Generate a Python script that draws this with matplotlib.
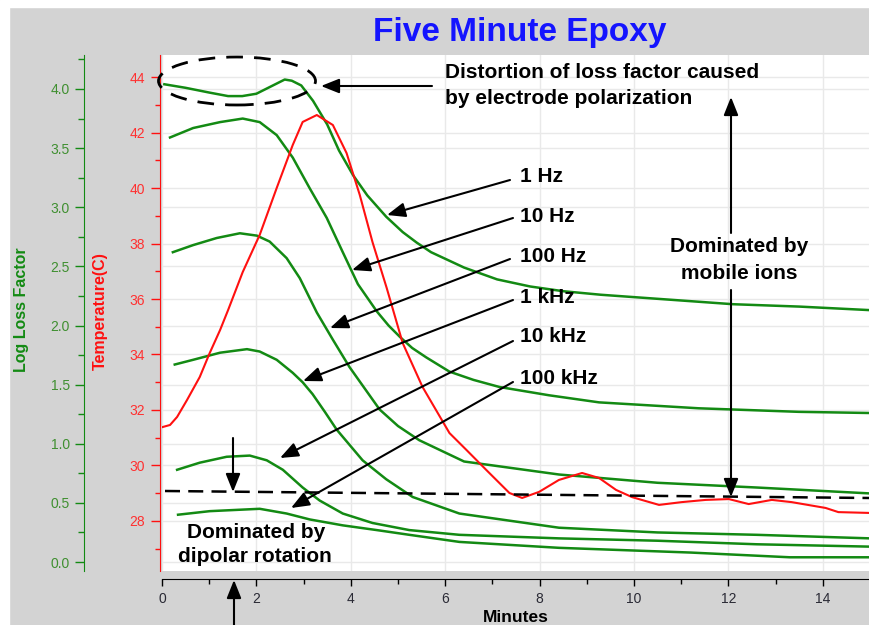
import numpy as np
import matplotlib.pyplot as plt
import matplotlib.transforms as mtransforms
from matplotlib.patches import Ellipse, FancyArrowPatch, Rectangle
from matplotlib.lines import Line2D
from matplotlib.ticker import MultipleLocator

plt.rcParams['font.family'] = ['Liberation Sans', 'DejaVu Sans']

# log loss factor curves (minutes, log loss factor)
t_1hz = [0.05, 0.5, 1.0, 1.4, 1.7, 2.0, 2.3, 2.6, 2.75, 2.95, 3.2, 3.5, 3.75, 4.05, 4.35,
         4.75, 5.1, 5.4, 5.7, 6.4, 7.1, 7.8, 8.5, 9.3, 10.7, 12.1, 13.5, 15.0]
lf_1hz = [4.04, 4.01, 3.97, 3.94, 3.94, 3.96, 4.02, 4.08, 4.07, 4.03, 3.90, 3.70, 3.48, 3.27, 3.10,
          2.92, 2.79, 2.70, 2.62, 2.49, 2.39, 2.33, 2.29, 2.26, 2.22, 2.18, 2.16, 2.13]

t_10hz = [0.17, 0.66, 1.23, 1.71, 2.07, 2.43, 2.77, 3.13, 3.49, 3.83, 4.15, 4.55, 4.8, 5.05,
          5.3, 5.6, 6.09, 6.6, 7.15, 8.2, 9.26, 11.37, 13.49, 15.0]
lf_10hz = [3.59, 3.67, 3.72, 3.75, 3.72, 3.61, 3.42, 3.16, 2.91, 2.62, 2.35, 2.12, 2.00, 1.90,
           1.81, 1.73, 1.61, 1.54, 1.48, 1.41, 1.35, 1.30, 1.27, 1.26]

t_100hz = [0.23, 0.66, 1.16, 1.65, 2.01, 2.28, 2.64, 2.92, 3.28, 3.62, 3.97, 4.61, 5.0, 5.45,
           6.4, 8.41, 10.5, 12.6, 15.0]
lf_100hz = [2.62, 2.68, 2.74, 2.78, 2.76, 2.71, 2.57, 2.40, 2.11, 1.88, 1.65, 1.29, 1.15, 1.03,
            0.85, 0.74, 0.67, 0.63, 0.58]

t_1khz = [0.27, 0.66, 1.23, 1.80, 2.07, 2.43, 2.77, 2.98, 3.19, 3.45, 3.70, 4.25, 4.75, 5.31,
          6.30, 8.41, 10.5, 12.6, 15.0]
lf_1khz = [1.67, 1.71, 1.77, 1.80, 1.78, 1.71, 1.60, 1.52, 1.42, 1.27, 1.12, 0.86, 0.70, 0.55,
           0.41, 0.29, 0.25, 0.23, 0.20]

t_10khz = [0.32, 0.80, 1.37, 1.86, 2.22, 2.56, 2.98, 3.34, 3.83, 4.46, 5.24, 6.30, 8.41,
           10.5, 12.6, 15.0]
lf_10khz = [0.78, 0.84, 0.89, 0.90, 0.86, 0.78, 0.63, 0.52, 0.41, 0.33, 0.27, 0.23, 0.20,
            0.18, 0.15, 0.13]

t_100khz = [0.34, 1.01, 2.07, 2.64, 3.13, 3.83, 4.55, 5.24, 6.30, 8.41, 11.2, 13.3, 15.0]
lf_100khz = [0.40, 0.43, 0.45, 0.41, 0.36, 0.31, 0.27, 0.23, 0.17, 0.12, 0.08, 0.04, 0.04]

# temperature (minutes, deg C)
t_temp = [0.0, 0.17, 0.32, 0.53, 0.80, 1.01, 1.23, 1.40, 1.71, 2.07, 2.43, 2.77, 2.98, 3.28,
          3.62, 3.91, 4.19, 4.46, 4.76, 5.10, 5.52, 6.09, 6.45, 6.87, 7.36, 7.63, 7.99, 8.41,
          8.90, 9.26, 9.62, 9.96, 10.53, 11.01, 11.52, 12.01, 12.43, 12.92, 13.34, 14.06,
          14.33, 15.0]
temp = [31.38, 31.46, 31.75, 32.36, 33.19, 34.05, 34.88, 35.6, 36.97, 38.31, 40.0, 41.55,
        42.38, 42.63, 42.27, 41.26, 39.75, 38.05, 36.4, 34.41, 32.83, 31.17, 30.56, 29.84,
        29.01, 28.83, 29.05, 29.48, 29.73, 29.55, 29.12, 28.86, 28.58, 28.68, 28.76, 28.79,
        28.61, 28.76, 28.68, 28.47, 28.32, 28.29]

freq_labels = ['1 Hz', '10 Hz', '100 Hz', '1 kHz', '10 kHz', '100 kHz']
loss_series = [(t_1hz, lf_1hz), (t_10hz, lf_10hz), (t_100hz, lf_100hz),
               (t_1khz, lf_1khz), (t_10khz, lf_10khz), (t_100khz, lf_100khz)]

W, H = 870, 625
PT = 72 / 100  # points per pixel
def fx(x):
    return x / W
def fy(y):
    return 1 - y / H

GREEN = '#138a13'
RED = '#ff1010'

fig = plt.figure(figsize=(8.7, 6.25), dpi=100, facecolor='#d3d3d3')
fig.add_artist(Rectangle((0, fy(7)), 1, 7 / H, transform=fig.transFigure, color='white', zorder=0))
fig.add_artist(Rectangle((0, 0), 9 / W, 1, transform=fig.transFigure, color='white', zorder=0))

ax = fig.add_axes([fx(162), fy(571), (870 - 162) / W, (571 - 55) / H])
ax.set_facecolor('white')
ax_t = ax.twinx()

ax.set_xlim(0, 15)
ax.set_ylim(-0.076, 4.2875)
ax_t.set_ylim(26.198, 44.793)

# grid (loss factor + temperature + minutes)
ax.set_axisbelow(True)
ax.grid(axis='both', which='major', color='#e9e9e9', lw=1)
blend = mtransforms.blended_transform_factory(ax.transAxes, ax_t.transData)
for tv in range(28, 45, 2):
    ax.plot([0, 1], [tv, tv], transform=blend, color='#e9e9e9', lw=1, zorder=0.5)

for t, v in loss_series:
    ax.plot(t, v, color=GREEN, lw=1.8, zorder=2)
ax_t.plot(t_temp, temp, color=RED, lw=1.5)

# x axis
ax.set_xticks(range(0, 15, 2))
ax.xaxis.set_minor_locator(MultipleLocator(1))
ax.spines['bottom'].set_position(('outward', 8 * PT))
ax.tick_params(axis='x', which='major', direction='out', length=7 * PT, width=1,
               colors='black', labelcolor='#2a2a35', labelsize=10, pad=4)
ax.tick_params(axis='x', which='minor', direction='out', length=5 * PT, width=1, colors='black')
ax.set_xlabel('Minutes', fontsize=12.5, fontweight='bold', labelpad=3)
for s in ['top', 'right']:
    ax.spines[s].set_visible(False)

# green log loss axis
ax.set_yticks(np.arange(0, 4.01, 0.5))
ax.yaxis.set_minor_locator(MultipleLocator(0.25))
ax.spines['left'].set_position(('outward', 78 * PT))
ax.spines['left'].set_color(GREEN)
ax.tick_params(axis='y', which='major', length=9 * PT, width=1, colors=GREEN,
               labelcolor='#3f8f30', labelsize=10, pad=5 * PT)
ax.tick_params(axis='y', which='minor', length=6 * PT, width=1, colors=GREEN)

# red temperature axis on the left
ax_t.yaxis.tick_left()
for s in ['top', 'right', 'bottom']:
    ax_t.spines[s].set_visible(False)
ax_t.spines['left'].set_visible(True)
ax_t.spines['left'].set_position(('outward', 2 * PT))
ax_t.spines['left'].set_color(RED)
ax_t.set_yticks(range(28, 45, 2))
ax_t.yaxis.set_minor_locator(MultipleLocator(1))
ax_t.tick_params(axis='y', which='major', length=9 * PT, width=1, colors=RED,
                 labelcolor='#ff3030', labelsize=10, pad=6 * PT)
ax_t.tick_params(axis='y', which='minor', length=5 * PT, width=1, colors=RED)

fig.text(fx(22), fy(310), 'Log Loss Factor', rotation=90, color=GREEN,
         fontsize=11.5, fontweight='bold', ha='center', va='center')
fig.text(fx(100), fy(311), 'Temperature(C)', rotation=90, color=RED,
         fontsize=11.5, fontweight='bold', ha='center', va='center')
fig.text(fx(520), fy(33), 'Five Minute Epoxy', color='#1414ff', fontsize=24,
         fontweight='bold', ha='center', va='center')

# annotations
def arrow(x0, y0, x1, y1):
    fig.add_artist(FancyArrowPatch((fx(x0), fy(y0)), (fx(x1), fy(y1)),
                                   transform=fig.transFigure,
                                   arrowstyle='-|>,head_length=0.55,head_width=0.22',
                                   mutation_scale=20, color='black', lw=1.5,
                                   shrinkA=0, shrinkB=0))

def note(x, y, s, ha='left'):
    fig.text(fx(x), fy(y), s, fontsize=15, fontweight='bold', ha=ha, va='center')

fig.add_artist(Ellipse((fx(237), fy(81)), 157 / W, 48 / H, transform=fig.transFigure,
                       fill=False, ec='black', lw=2, ls=(0, (6, 4))))
arrow(432, 86, 321, 86)
note(445, 73, 'Distortion of loss factor caused')
note(445, 98, 'by electrode polarization')

label_y = [177, 216, 256, 297, 337, 379]
starts = [(510, 180), (513, 218), (510, 259), (513, 300), (513, 341), (513, 382)]
tips = [(387, 215), (352, 270), (330, 328), (303, 381), (280, 458), (291, 508)]
for lab, ly, (sx, sy), (tx, ty) in zip(freq_labels, label_y, starts, tips):
    note(520, ly, lab)
    arrow(sx, sy, tx, ty)

arrow(731, 233, 731, 97)
arrow(731, 290, 731, 497)
note(739, 247, 'Dominated by', ha='center')
note(739, 273, 'mobile ions', ha='center')

fig.add_artist(Line2D([fx(165), fx(870)], [fy(491), fy(498)], transform=fig.transFigure,
                      color='black', lw=1.8, ls=(0, (6, 3.3))))
arrow(233, 438, 233, 492)
arrow(234, 625, 234, 580)
note(256, 533, 'Dominated by', ha='center')
note(255, 557, 'dipolar rotation', ha='center')

fig.savefig('out.png', dpi=100, facecolor=fig.get_facecolor())
